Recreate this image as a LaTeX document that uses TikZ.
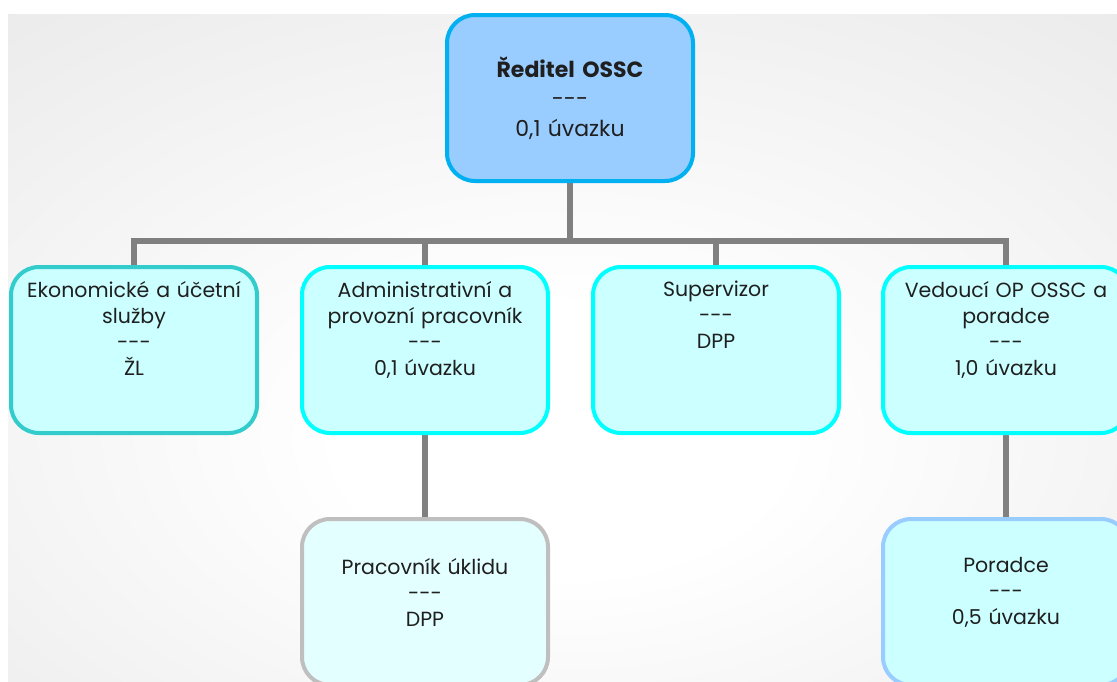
\documentclass[tikz,border=0pt]{standalone}
\usepackage{fontspec}
\newfontfamily\orgfont{Poppins}
\usetikzlibrary{backgrounds}
\definecolor{bossfill}{HTML}{99CCFF}
\definecolor{bossline}{HTML}{00B0F0}
\definecolor{cellfill}{HTML}{CCFFFF}
\definecolor{tealline}{HTML}{33CCCC}
\definecolor{cyanline}{HTML}{00FFFF}
\definecolor{paleline}{HTML}{BFBFBF}
\definecolor{palefill}{HTML}{E3FFFF}
\definecolor{blueline}{HTML}{99CCFF}
\pgfdeclareradialshading{paper}{\pgfpoint{0bp}{-8bp}}{color(0bp)=(white);color(10bp)=(white);color(45bp)=(gray!19);color(80bp)=(gray!24)}
\tikzset{
    unit/.style={draw=cyanline,fill=cellfill,rounded corners=28pt,line width=4pt,
        minimum width=246pt,minimum height=166pt,inner sep=0pt,
        text width=240pt,align=center,text=black!88},
    conn/.style={draw=gray,line width=5.5pt},
}
\begin{document}
\begin{tikzpicture}[x=1pt,y=-1pt,font=\orgfont\fontsize{20.5}{26}\selectfont]
    \useasboundingbox (0,0) rectangle (1117,681);
    \node[unit,fill=bossfill,draw=bossline,font=\orgfont\fontsize{22}{29.5}\selectfont] (boss) at (570,98)
        {\textbf{Ředitel OSSC}\\---\\0,1 úvazku};
    \node[unit,draw=tealline] (eko) at (134,350)
        {\parbox[c][138pt][t]{240pt}{\centering Ekonomické a účetní\\služby\\---\\ŽL}};
    \node[unit] (adm) at (425,350)
        {\parbox[c][138pt][t]{240pt}{\centering Administrativní a\\provozní pracovník\\---\\0,1 úvazku}};
    \node[unit] (sup) at (716,350)
        {\parbox[c][138pt][t]{240pt}{\centering Supervizor\\---\\DPP}};
    \node[unit] (ved) at (1006,350)
        {\parbox[c][138pt][t]{240pt}{\centering Vedoucí OP OSSC a\\poradce\\---\\1,0 úvazku}};
    \node[unit,draw=paleline,fill=palefill] (ukl) at (425,602)
        {\parbox[c][166pt][c]{240pt}{\centering Pracovník úklidu\\---\\DPP\par\vspace{20pt}}};
    \node[unit,draw=blueline] (por) at (1006,602)
        {\parbox[c][166pt][c]{240pt}{\centering Poradce\\---\\0,5 úvazku\par\vspace{20pt}}};
    \begin{scope}[on background layer]
        \shade[shading=paper] (8,14) rectangle (1117,681);
        \coordinate (bar) at (570,241);
        \draw[conn] (boss.south) -- (bar) -| (eko.north);
        \draw[conn] (bar) -| (adm.north);
        \draw[conn] (bar) -| (sup.north);
        \draw[conn] (bar) -| (ved.north);
        \draw[conn] (adm.south) -- (ukl.north);
        \draw[conn] (ved.south) -- (por.north);
    \end{scope}
\end{tikzpicture}
\end{document}
